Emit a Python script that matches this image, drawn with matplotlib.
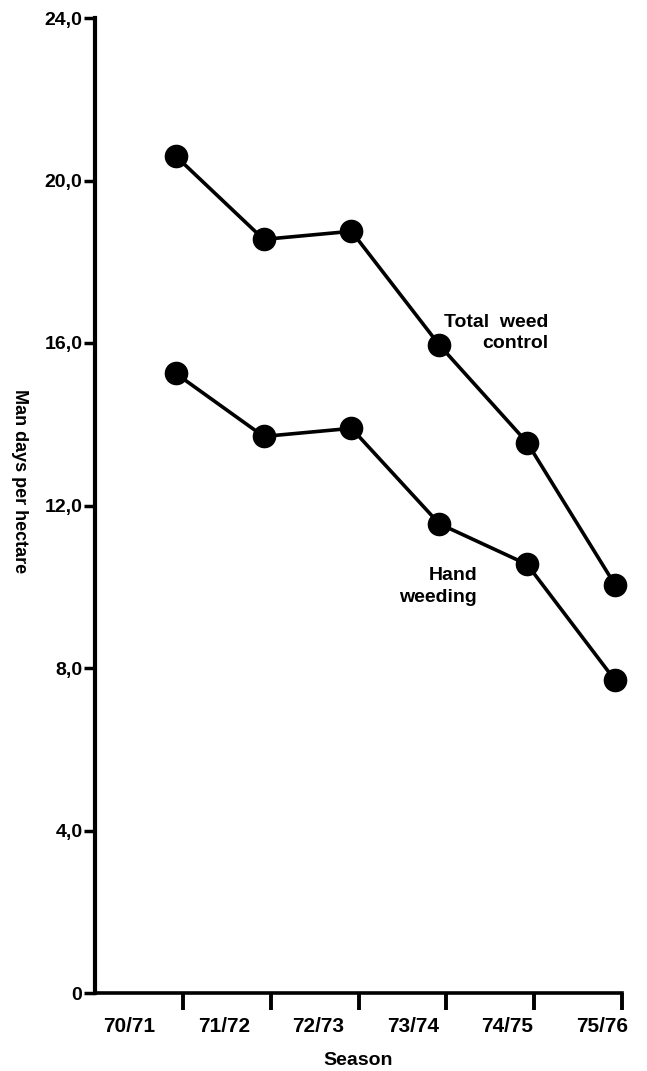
import matplotlib.pyplot as plt
import numpy as np

# Data
seasons = ['70/71', '71/72', '72/73', '73/74', '74/75', '75/76']
total_weed_control = [20.6, 18.55, 18.75, 15.95, 13.55, 10.05]
hand_weeding = [15.25, 13.7, 13.9, 11.55, 10.55, 7.7]
y_ticks = [0, 4, 8, 12, 16, 20, 24]
y_tick_labels = ['0', '4,0', '8,0', '12,0', '16,0', '20,0', '24,0']

plt.rcParams['font.family'] = ['Liberation Sans', 'DejaVu Sans']
plt.rcParams['font.weight'] = 'bold'

fig = plt.figure(figsize=(6.47, 10.71), dpi=100)
ax = fig.add_axes([95 / 647, 78 / 1071, (622 - 95) / 647, (993 - 18) / 1071])

n = len(seasons)
tick_x = np.arange(1, n + 1)
point_x = tick_x - 0.08
label_x = 0.39 + 1.076 * np.arange(n)

for series in (total_weed_control, hand_weeding):
    ax.plot(point_x, series, color='black', lw=2.6, marker='o', ms=16,
            clip_on=False, solid_capstyle='round')

ax.text(5.16, 16.25, 'Total  weed\ncontrol', ha='right', va='center',
        fontsize=14, fontweight='bold', linespacing=1.35)
ax.text(4.35, 10.0, 'Hand\nweeding', ha='right', va='center',
        fontsize=14, fontweight='bold', linespacing=1.35)

ax.set_xlim(0, 6)
ax.set_ylim(0, 24)

for s in ('top', 'right'):
    ax.spines[s].set_visible(False)
ax.spines['left'].set_linewidth(3)
ax.spines['bottom'].set_linewidth(2.6)

ax.set_yticks(y_ticks)
ax.set_yticklabels(y_tick_labels, fontsize=14, fontweight='bold')
ax.tick_params(axis='y', direction='out', length=8, width=2.5, pad=1)

ax.set_xticks(tick_x)
ax.set_xticklabels([])
ax.tick_params(axis='x', which='major', direction='out', length=12, width=2.8)
ax.set_xticks(label_x, minor=True)
ax.set_xticklabels(seasons, minor=True, fontsize=15, fontweight='bold')
ax.tick_params(axis='x', which='minor', length=0, pad=17)

ax.set_xlabel('Season', fontsize=14, fontweight='bold', labelpad=12)
ax.set_ylabel('Man days per hectare', fontsize=13, fontweight='bold',
              rotation=270, va='center')
ax.yaxis.set_label_coords(-76 / 527, (993 - 481) / 975)

fig.savefig('out.png', dpi=100)
